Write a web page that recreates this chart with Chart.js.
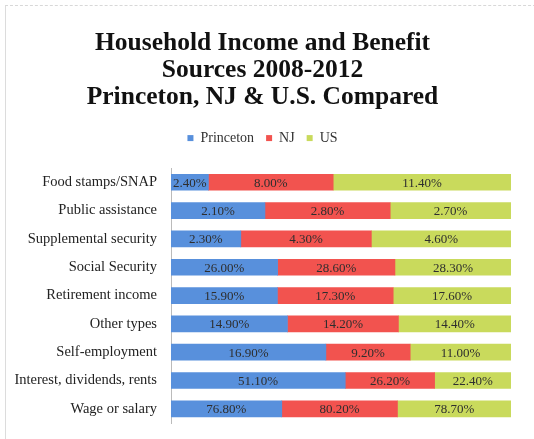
<!DOCTYPE html>
<html>
<head>
<meta charset="utf-8">
<script src="https://cdn.jsdelivr.net/npm/chart.js@4/dist/chart.umd.min.js"></script>
<style>
  html, body { margin: 0; padding: 0; background: #fff; }
  #wrap { position: relative; width: 534px; height: 439px; }
  #frame { position: absolute; left: 5px; top: 5px; width: 540px; height: 500px;
           border-top: 1px dashed #d8d8d8; border-left: 1px solid #dcdcdc; }
  canvas { position: absolute; left: 0; top: 0; }
</style>
</head>
<body>
<div id="wrap">
  <div id="frame"></div>
  <canvas id="grafico" width="534" height="439"></canvas>
</div>
<script>
// Categorias (de cima para baixo)
const categorias = [
    'Food stamps/SNAP',
    'Public assistance',
    'Supplemental security',
    'Social Security',
    'Retirement income',
    'Other types',
    'Self-employment',
    'Interest, dividends, rents',
    'Wage or salary'
];

// Valores em % por série
const princeton = [2.4, 2.1, 2.3, 26.0, 15.9, 14.9, 16.9, 51.1, 76.8];
const nj        = [8.0, 2.8, 4.3, 28.6, 17.3, 14.2, 9.2, 26.2, 80.2];
const us        = [11.4, 2.7, 4.6, 28.3, 17.6, 14.4, 11.0, 22.4, 78.7];

const series = ['Princeton', 'NJ', 'US'];
const cores = ['#5890dc', '#f2534f', '#c9da5c'];

// Empilhamento 100%: cada barra é normalizada pela soma da linha
const totais = categorias.map((_, i) => princeton[i] + nj[i] + us[i]);
const valores = [princeton, nj, us];

const datasets = valores.map((vals, s) => ({
    label: series[s],
    data: vals.map((v, i) => v / totais[i] * 100),
    brutos: vals,
    backgroundColor: cores[s],
    borderWidth: 0,
    barThickness: 16
}));

const fonte = '"Liberation Serif", "Times New Roman", serif';

// Plugin simples para escrever os rótulos no meio das barras
const rotulos = {
    id: 'rotulos',
    afterDatasetsDraw(chart) {
        const ctx = chart.ctx;
        ctx.save();
        ctx.font = '13px ' + fonte;
        ctx.fillStyle = '#2e2e2e';
        ctx.textAlign = 'center';
        ctx.textBaseline = 'middle';
        chart.data.datasets.forEach((ds, d) => {
            chart.getDatasetMeta(d).data.forEach((bar, i) => {
                const cx = (bar.x + bar.base) / 2;
                ctx.fillText(ds.brutos[i].toFixed(2) + '%', cx, bar.y + 1);
            });
        });
        ctx.restore();
    }
};

// Espaço extra abaixo da legenda
const espacoLegenda = {
    id: 'espacoLegenda',
    beforeUpdate(chart) {
        const lg = chart.legend;
        if (lg && !lg._ajustado) {
            const fitOriginal = lg.fit;
            lg.fit = function () {
                fitOriginal.call(this);
                this.height += 13;
            };
            lg._ajustado = true;
        }
    }
};

new Chart(document.getElementById('grafico'), {
    type: 'bar',
    data: { labels: categorias, datasets: datasets },
    plugins: [rotulos, espacoLegenda],
    options: {
        responsive: false,
        animation: false,
        indexAxis: 'y',
        layout: { padding: { left: 14, right: 23, top: 30, bottom: 16 } },
        plugins: {
            title: {
                display: true,
                text: ['Household Income and Benefit', 'Sources 2008-2012', 'Princeton, NJ & U.S. Compared'],
                color: '#111',
                font: { family: fonte, size: 25.5, weight: 'bold', lineHeight: 1.06 },
                padding: { top: 0, bottom: 8 }
            },
            legend: {
                display: true,
                labels: {
                    boxWidth: 6,
                    boxHeight: 6,
                    color: '#333',
                    padding: 12,
                    font: { family: fonte, size: 14 }
                }
            },
            tooltip: { enabled: false }
        },
        scales: {
            x: {
                stacked: true,
                display: false,
                min: 0,
                max: 100
            },
            y: {
                stacked: true,
                afterFit(scale) {
                    scale.width = 157;
                    scale.paddingTop = 0;
                    scale.paddingBottom = 0;
                },
                grid: { display: false, drawTicks: false },
                border: { display: true, color: '#bbb' },
                ticks: {
                    color: '#222',
                    padding: 14,
                    font: { family: fonte, size: 14.5 }
                }
            }
        }
    }
});
</script>
</body>
</html>
